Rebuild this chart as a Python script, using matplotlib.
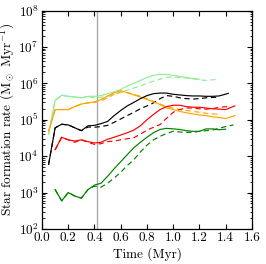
import matplotlib
matplotlib.use("Agg")
import matplotlib.pyplot as plt
import numpy as np

plt.rcParams["font.family"] = ["cmr10", "DejaVu Serif"]
plt.rcParams["mathtext.fontset"] = "cm"
plt.rcParams["axes.formatter.use_mathtext"] = True

# light green run
t_lg = [0.05, 0.1, 0.15, 0.2, 0.25, 0.3, 0.35, 0.4, 0.45, 0.5, 0.55, 0.6, 0.65, 0.7,
        0.75, 0.8, 0.85, 0.9, 0.95, 1.0, 1.05, 1.1, 1.15, 1.2]
sfr_lg = [4e4, 3.4e5, 4.7e5, 4.4e5, 4.2e5, 4.0e5, 4.4e5, 4.4e5, 4.6e5, 5.2e5, 5.8e5, 6.8e5,
          8.5e5, 1.0e6, 1.2e6, 1.45e6, 1.65e6, 1.75e6, 1.75e6, 1.65e6, 1.55e6, 1.45e6, 1.35e6, 1.3e6]
t_lg_d = [0.05, 0.1, 0.15, 0.2, 0.25, 0.3, 0.35, 0.4, 0.45, 0.5, 0.55, 0.6, 0.65, 0.7,
          0.75, 0.8, 0.85, 0.9, 0.95, 1.0, 1.05, 1.1, 1.15, 1.2, 1.25, 1.3, 1.35]
sfr_lg_d = [4e4, 3.4e5, 4.7e5, 4.4e5, 4.2e5, 4.0e5, 4.2e5, 4.0e5, 4.1e5, 4.5e5, 5.0e5, 5.6e5,
            6.5e5, 7.5e5, 8.5e5, 1.0e6, 1.15e6, 1.3e6, 1.45e6, 1.5e6, 1.45e6, 1.4e6, 1.35e6,
            1.25e6, 1.2e6, 1.25e6, 1.3e6]

# orange run
t_or = [0.05, 0.1, 0.15, 0.2, 0.25, 0.3, 0.35, 0.4, 0.45, 0.5, 0.55, 0.6, 0.65, 0.7,
        0.75, 0.8, 0.85, 0.9, 0.95, 1.0, 1.05, 1.1, 1.15, 1.2, 1.25, 1.3, 1.35, 1.4, 1.47]
sfr_or = [4.8e4, 1.9e5, 1.9e5, 1.9e5, 2.3e5, 2.7e5, 2.9e5, 3.1e5, 3.6e5, 4.5e5, 5.5e5, 6.3e5,
          5.5e5, 4.8e5, 4.2e5, 3.6e5, 3.1e5, 2.6e5, 2.1e5, 1.9e5, 1.7e5, 1.55e5, 1.45e5, 1.35e5,
          1.3e5, 1.2e5, 1.15e5, 1.07e5, 1.3e5]
t_or_d = [0.05, 0.1, 0.15, 0.2, 0.25, 0.3, 0.35, 0.4, 0.45, 0.5, 0.55, 0.6, 0.65, 0.7,
          0.75, 0.8, 0.85, 0.9, 0.95, 1.0, 1.05, 1.1, 1.15, 1.2, 1.25, 1.3, 1.35]
sfr_or_d = [4.8e4, 1.9e5, 1.9e5, 1.9e5, 2.3e5, 2.7e5, 2.9e5, 3.0e5, 3.3e5, 4.0e5, 5.0e5, 5.8e5,
            5.6e5, 5.0e5, 4.4e5, 3.8e5, 3.2e5, 2.7e5, 2.3e5, 2.1e5, 1.9e5, 1.8e5, 1.7e5, 1.6e5,
            1.5e5, 1.45e5, 1.4e5]

# black run
t_bk = [0.05, 0.1, 0.15, 0.2, 0.25, 0.3, 0.35, 0.4, 0.45, 0.5, 0.55, 0.6, 0.65, 0.7,
        0.75, 0.8, 0.85, 0.9, 0.95, 1.0, 1.05, 1.1, 1.15, 1.2, 1.25, 1.3, 1.35, 1.42]
sfr_bk = [5.9e3, 6e4, 7.5e4, 7.2e4, 6e4, 5e4, 6.8e4, 7e4, 7.8e4, 9e4, 1.3e5, 1.8e5,
          2.4e5, 3.0e5, 3.8e5, 4.6e5, 5.2e5, 5.4e5, 5.4e5, 5.0e5, 4.8e5, 4.6e5, 4.5e5, 4.5e5,
          4.4e5, 4.4e5, 4.5e5, 5.3e5]
t_bk_d = [0.05, 0.1, 0.15, 0.2, 0.25, 0.3, 0.35, 0.4, 0.45, 0.5, 0.55, 0.6, 0.65, 0.7,
          0.75, 0.8, 0.85, 0.9, 0.95, 1.0, 1.05, 1.1, 1.15, 1.2, 1.25, 1.3, 1.35]
sfr_bk_d = [5.9e3, 6e4, 7.5e4, 7.2e4, 6e4, 5e4, 6.3e4, 6.2e4, 6.5e4, 7e4, 8.5e4, 1.05e5,
            1.3e5, 1.6e5, 2.0e5, 2.4e5, 2.9e5, 3.8e5, 4.6e5, 4.4e5, 4.0e5, 3.8e5, 3.7e5, 3.8e5,
            4.0e5, 4.1e5, 4.2e5]

# red run
t_rd = [0.1, 0.15, 0.2, 0.25, 0.3, 0.35, 0.4, 0.45, 0.5, 0.55, 0.6, 0.65, 0.7, 0.75,
        0.8, 0.85, 0.9, 0.95, 1.0, 1.05, 1.1, 1.15, 1.2, 1.25, 1.3, 1.35, 1.4, 1.47]
sfr_rd = [1.5e4, 3.3e4, 2.8e4, 2.6e4, 2.8e4, 2.5e4, 2.3e4, 2.4e4, 2.9e4, 3.3e4, 3.8e4, 4.4e4,
          5.2e4, 6.8e4, 1.0e5, 1.4e5, 1.9e5, 2.3e5, 2.5e5, 2.5e5, 2.3e5, 2.2e5, 2.2e5, 2.1e5,
          2.0e5, 1.95e5, 1.9e5, 2.4e5]
t_rd_d = [0.1, 0.15, 0.2, 0.25, 0.3, 0.35, 0.4, 0.45, 0.5, 0.55, 0.6, 0.65, 0.7, 0.75,
          0.8, 0.85, 0.9, 0.95, 1.0, 1.05, 1.1, 1.15, 1.2, 1.25, 1.3, 1.35, 1.42]
sfr_rd_d = [1.5e4, 3.3e4, 2.8e4, 2.4e4, 2.8e4, 2.4e4, 2.1e4, 2.2e4, 2.5e4, 2.6e4, 2.8e4, 3.0e4,
            3.2e4, 4.0e4, 5.2e4, 6.2e4, 7.4e4, 1.1e5, 1.6e5, 1.9e5, 2.1e5, 2.1e5, 2.0e5, 1.95e5,
            2.0e5, 2.2e5, 2.3e5]

# dark green run
t_gr = [0.1, 0.15, 0.2, 0.25, 0.3, 0.35, 0.4, 0.45, 0.5, 0.55, 0.6, 0.65, 0.7, 0.75,
        0.8, 0.85, 0.9, 0.95, 1.0, 1.05, 1.1, 1.15, 1.2, 1.25, 1.3, 1.35, 1.4]
sfr_gr = [1.2e3, 5.9e2, 1.0e3, 8.0e2, 7.0e2, 1.2e3, 1.6e3, 1.8e3, 2.8e3, 4.5e3, 7e3, 1.1e4,
          1.7e4, 2.4e4, 3.3e4, 4.4e4, 5.4e4, 5.8e4, 5.6e4, 5.4e4, 5.0e4, 4.8e4, 4.8e4, 5.6e4,
          5.6e4, 5.3e4, 5.5e4]
t_gr_d = [0.1, 0.15, 0.2, 0.25, 0.3, 0.35, 0.4, 0.45, 0.5, 0.55, 0.6, 0.65, 0.7, 0.75,
          0.8, 0.85, 0.9, 0.95, 1.0, 1.05, 1.1, 1.15, 1.2, 1.25, 1.3, 1.35, 1.4, 1.46]
sfr_gr_d = [1.2e3, 5.9e2, 1.0e3, 8.0e2, 7.0e2, 1.2e3, 1.5e3, 1.4e3, 1.8e3, 2.5e3, 3.6e3, 5.5e3,
            8e3, 1.3e4, 2.0e4, 2.8e4, 3.5e4, 4.2e4, 4.8e4, 4.6e4, 4.5e4, 4.5e4, 4.8e4, 5.0e4,
            5.2e4, 5.8e4, 6.5e4, 7.2e4]

t_mark = 0.42

fig = plt.figure(figsize=(2.66, 2.64), dpi=100)
ax = fig.add_axes([0.158, 0.133, 0.789, 0.827])

ax.axvline(t_mark, color="#aaaaaa", lw=1.0, zorder=1)

runs = [
    ("#90ee90", t_lg, sfr_lg, t_lg_d, sfr_lg_d),
    ("#ffa500", t_or, sfr_or, t_or_d, sfr_or_d),
    ("black", t_bk, sfr_bk, t_bk_d, sfr_bk_d),
    ("red", t_rd, sfr_rd, t_rd_d, sfr_rd_d),
    ("green", t_gr, sfr_gr, t_gr_d, sfr_gr_d),
]
for color, ts, ys, td, yd in runs:
    ax.plot(ts, ys, color=color, lw=0.85, zorder=3)
    ax.plot(td, yd, color=color, lw=0.85, ls=(0, (4.5, 3)), zorder=2)

ax.set_yscale("log")
ax.set_xlim(0, 1.6)
ax.set_ylim(1e2, 1e8)
ax.set_xticks(np.arange(0, 1.61, 0.2))
ax.set_xticklabels([f"{v:.1f}" for v in np.arange(0, 1.61, 0.2)])
ax.tick_params(which="both", direction="in", top=True, right=True, labelsize=9.5)
ax.tick_params(which="major", length=3.5, pad=2.5)
ax.tick_params(which="minor", length=1.8)
for s in ax.spines.values():
    s.set_linewidth(0.9)

ax.set_xlabel("Time (Myr)", fontsize=9.5, labelpad=2)
ax.set_ylabel(r"Star formation rate (M$_\odot$ Myr$^{-1}$)", fontsize=9.5, labelpad=1)

fig.savefig("out.png", dpi=100)
